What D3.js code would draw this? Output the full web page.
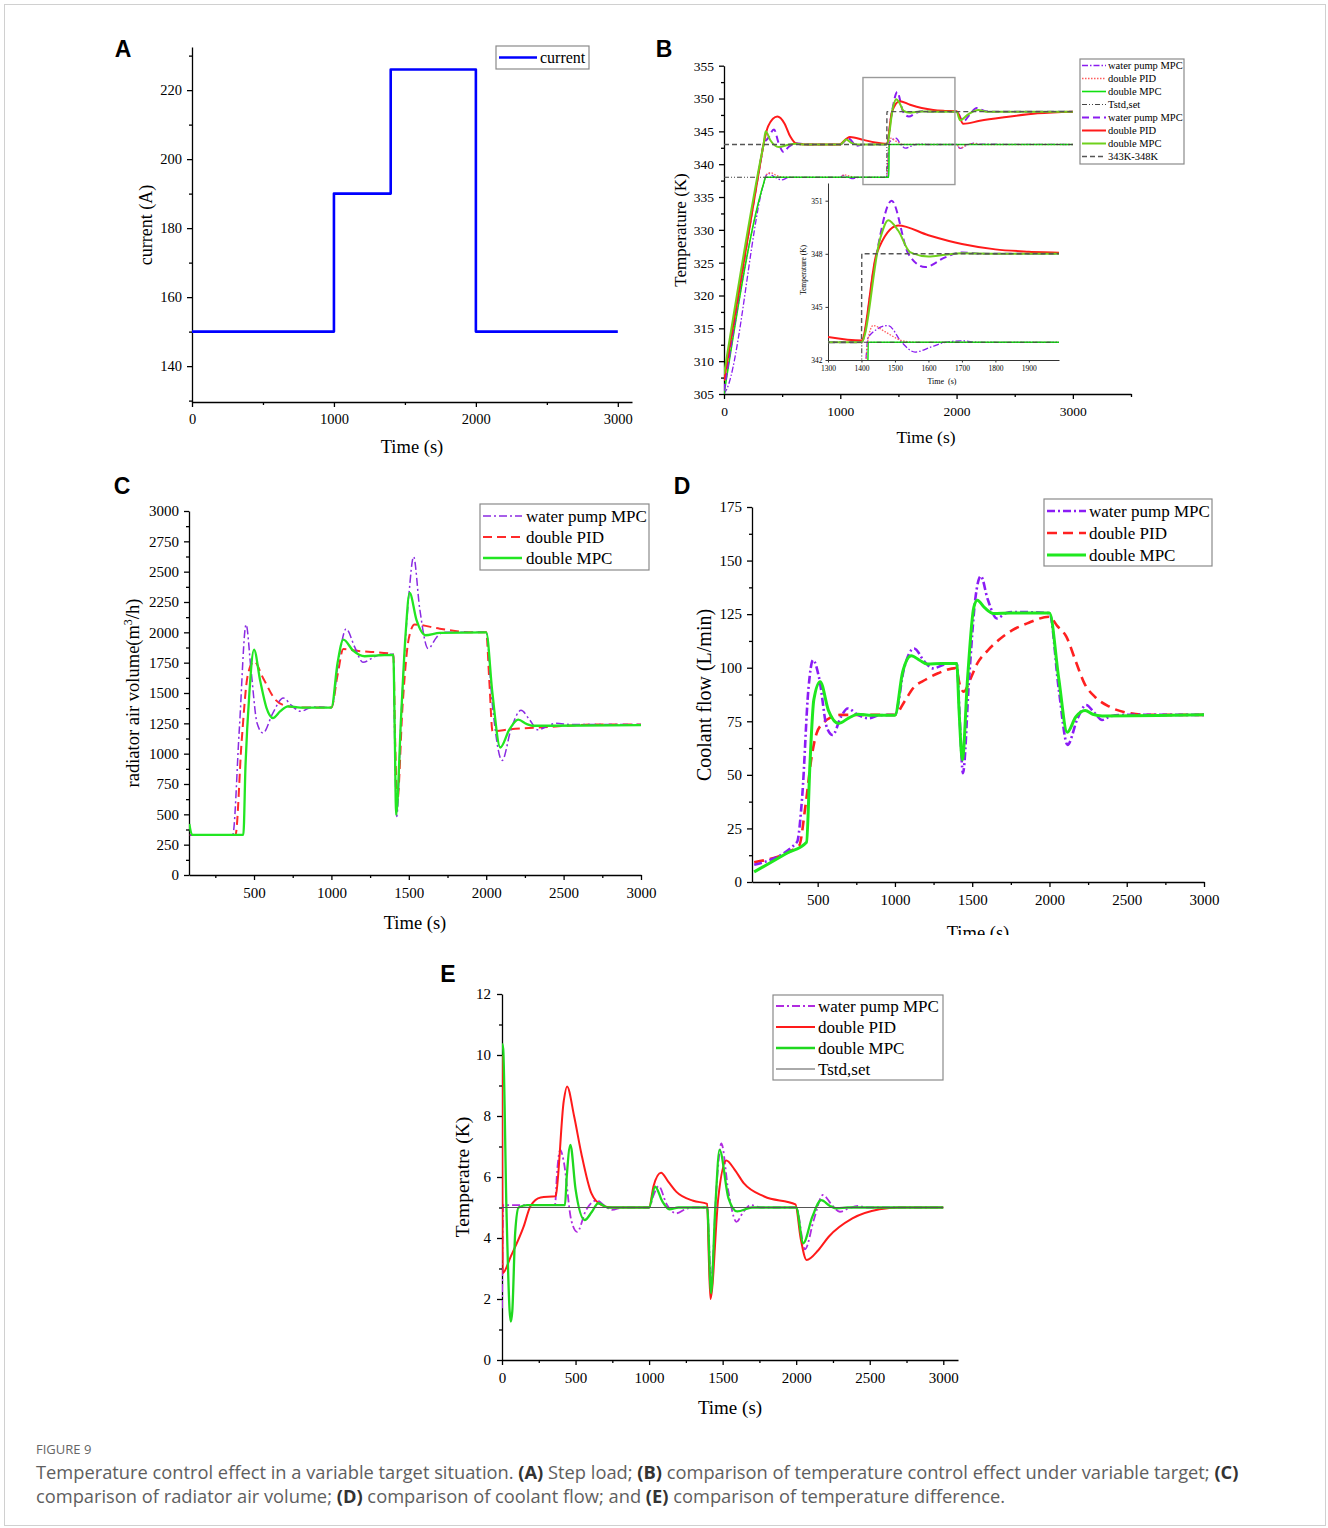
<!DOCTYPE html>
<html><head><meta charset="utf-8">
<script src="https://cdn.jsdelivr.net/npm/d3@7"></script>
<style>body{margin:0;background:#fff}</style>
</head><body>
<svg id="fig" width="1328" height="1528" xmlns="http://www.w3.org/2000/svg"></svg>
<script>
// ---------------- DATA ----------------
// Panel A: step load current
const aTime = [0, 1000, 1000, 1400, 1400, 2000, 2000, 3000];
const aCurrent = [150, 150, 190, 190, 226, 226, 150, 150];
const aXTicks = [0, 1000, 2000, 3000];
const aYTicks = [140, 160, 180, 200, 220];

// Panel B: temperature (K) vs time (s)
const bWpThin = [[0,305],[20,305.6],[340,337],[360,338.2],[381,338.6],[430,338.1],[496,337.6],[560,338],[1000,338],[1023,338.3],[1060,338.1],[1100,337.8],[1160,338],[1400,338],[1410,341],[1420,343.3],[1480,343.95],[1520,343],[1560,342.45],[1610,342.75],[1650,343],[1700,343.08],[1750,343],[2000,343],[2030,342.4],[2090,342.9],[2150,343.2],[2200,343.05],[3000,343]];
const bPidThin = [[0,305.2],[340,337],[365,338.4],[400,338.7],[450,338.3],[520,338],[1000,338],[1030,338.4],[1080,338.2],[1130,338],[1400,338],[1410,341],[1420,343.2],[1435,343.95],[1470,343.6],[1520,343.1],[1560,343],[2000,343],[2030,342.4],[2080,342.9],[2150,343.15],[2220,343],[3000,343]];
const bMpcThin = [[0,305],[340,337],[358,338],[400,338],[1000,338],[1417,338],[1420,343],[3000,343]];
const bTstd = [[0,338],[1400,338],[1401,343],[3000,343]];
const bWpThick = [[0,305.5],[320,341],[340,343],[380,344],[430,345.3],[470,343.2],[510,341.9],[560,342.7],[620,343.2],[700,343],[1000,343],[1030,343.4],[1070,343.9],[1140,342.8],[1200,343],[1400,343],[1440,347.5],[1490,351],[1540,348],[1590,347.25],[1650,347.8],[1700,348.08],[1760,348],[2000,348],[2058,346.5],[2110,347.5],[2175,348.55],[2240,348.1],[2300,348],[3000,348]];
const bPidThick = [[0,307],[320,341],[340,343],[380,345.8],[459,347.25],[520,346.2],[570,344.2],[625,343.1],[700,343],[1000,343],[1012,343.2],[1083,344.15],[1200,343.7],[1300,343.3],[1400,343.1],[1445,348],[1510,349.6],[1600,349.05],[1700,348.55],[1800,348.25],[1900,348.12],[2000,348.05],[2058,346.15],[2200,346.6],[2394,347.1],[2697,347.75],[3000,348]];
const bMpcThick = [[0,308],[320,341.2],[340,343],[358,345],[400,343.6],[470,342.6],[560,343],[620,343.1],[700,343],[1000,343],[1050,343.75],[1100,343.2],[1150,343],[1400,343],[1455,348.8],[1480,349.9],[1510,349.3],[1545,348.1],[1600,347.85],[1650,347.95],[1700,348.03],[1800,348],[2000,348],[2030,346.7],[2100,347.6],[2187,348.25],[2260,348],[3000,348]];
const bRange = [[0,343],[1400,343],[1401,348],[3000,348]];
const bLegendLabels = ['water pump MPC','double PID','double MPC','Tstd,set','water pump MPC','double PID','double MPC','343K-348K'];
const bXTicks = [0, 1000, 2000, 3000];
const bYTicks = [305,310,315,320,325,330,335,340,345,350,355];
const bInsetXTicks = [1300,1400,1500,1600,1700,1800,1900];
const bInsetYTicks = [342,345,348,351];

// Panel C: radiator air volume (m3/h)
const cWp = [[85,330],[362,330],[405,1200],[449,2064],[480,1700],[520,1250],[558,1170],[620,1330],[689,1459],[740,1400],[800,1349],[880,1385],[1000,1380],[1050,1800],[1095,2029],[1150,1880],[1203,1753],[1300,1810],[1400,1820],[1410,1000],[1422,482],[1450,1300],[1500,2300],[1531,2623],[1570,2200],[1625,1866],[1680,1960],[1720,2000],[2000,2000],[2040,1400],[2103,944],[2160,1200],[2225,1357],[2280,1280],[2333,1197],[2400,1230],[2450,1250],[2550,1240],[3000,1240]];
const cPid = [[85,330],[380,330],[420,1100],[460,1650],[500,1760],[560,1620],[638,1445],[719,1390],[800,1380],[1000,1380],[1040,1650],[1077,1863],[1150,1850],[1400,1820],[1412,1100],[1425,600],[1460,1400],[1500,1950],[1538,2064],[1700,2030],[1900,2000],[2000,2000],[2020,1600],[2041,1184],[2150,1200],[2400,1220],[2700,1240],[3000,1240]];
const cMpc = [[82,420],[100,330],[431,330],[445,900],[470,1500],[500,1858],[540,1600],[580,1380],[622,1294],[670,1350],[719,1390],[800,1380],[1000,1380],[1040,1750],[1077,1940],[1140,1850],[1215,1803],[1300,1810],[1400,1815],[1410,1100],[1418,495],[1450,1300],[1480,2000],[1505,2326],[1550,2100],[1607,1976],[1700,1995],[2000,2000],[2040,1500],[2091,1051],[2150,1200],[2207,1280],[2260,1245],[2300,1230],[3000,1235]];
const cXTicks = [500,1000,1500,2000,2500,3000];
const cYTicks = [0,250,500,750,1000,1250,1500,1750,2000,2250,2500,2750,3000];

// Panel D: coolant flow (L/min)
const dWp = [[89,8],[366,18.6],[400,40],[440,90],[470,103.6],[510,95],[560,72],[597,68.6],[650,77],[694,81],[760,78],[828,76.4],[900,77.8],[1000,78],[1060,100],[1124,109],[1190,103],[1244,99.7],[1350,102],[1400,102],[1420,75],[1440,50.8],[1480,95],[1520,132],[1556,142.7],[1600,132],[1660,123],[1720,125.5],[1780,126],[2000,125.5],[2060,90],[2117,64],[2180,76],[2237,82.6],[2290,79],[2341,75.6],[2400,77.5],[2500,78],[3000,78]];
const dPid = [[89,9.2],[380,17],[420,35],[460,58],[493,69.4],[540,74.5],[585,76.8],[650,78],[1000,78],[1060,84],[1117,90.4],[1200,94.5],[1279,97.4],[1394,99.8],[1420,92],[1445,88.8],[1490,95],[1533,102],[1600,108],[1671,112.9],[1760,117.5],[1856,120.7],[2000,123.8],[2050,119.5],[2110,114.4],[2170,103],[2226,92.7],[2300,86],[2388,81.8],[2526,78.7],[2650,78],[3000,78]];
const dMpc = [[89,4.7],[300,13.4],[428,18.6],[450,55],[475,85],[516,93.5],[570,80],[636,74],[700,76.5],[759,78.3],[850,77.8],[1000,77.8],[1050,98],[1105,105.6],[1160,103.5],[1209,101.7],[1300,102],[1400,102],[1415,80],[1436,57],[1470,95],[1510,128],[1533,131.5],[1580,128],[1637,125.3],[1750,125.5],[2000,125.5],[2060,95],[2115,69.9],[2170,77],[2231,80],[2280,78.3],[2341,77.5],[3000,78]];
const dXTicks = [500,1000,1500,2000,2500,3000];
const dYTicks = [0,25,50,75,100,125,150,175];

// Panel E: temperature difference (K)
const eWp = [[0,1.7],[8,5.08],[360,5.08],[375,6.2],[396,6.89],[420,6.5],[470,4.6],[511,4.2],[570,4.9],[643,5.23],[700,5.05],[747,4.92],[820,5.0],[1000,5.0],[1030,5.4],[1065,5.7],[1120,5.1],[1184,4.81],[1250,4.95],[1300,5.0],[1395,5.0],[1421,2.6],[1460,5.8],[1491,7.1],[1540,5.5],[1594,4.53],[1640,4.85],[1691,5.08],[1760,5.0],[2000,5.0],[2060,3.63],[2120,4.6],[2182,5.41],[2240,5.1],[2297,4.86],[2360,4.98],[2420,5.05],[2480,5.0],[3000,5.0]];
const ePid = [[0,10],[5,2.85],[60,3.4],[147,4.37],[194,5.05],[263,5.33],[362,5.37],[366,5.4],[420,8.5],[442,8.97],[490,8.0],[539,6.78],[608,5.46],[677,5.08],[750,5.0],[1000,5.0],[1030,5.7],[1081,6.14],[1130,5.85],[1184,5.52],[1300,5.22],[1395,5.12],[1405,3.5],[1417,2.0],[1470,5.3],[1525,6.54],[1580,6.25],[1645,5.79],[1783,5.36],[1995,5.1],[2030,4.0],[2071,3.28],[2150,3.6],[2221,4.04],[2382,4.64],[2567,4.94],[2700,5.0],[3000,5.0]];
const eMpc = [[0,10.38],[8,10.2],[30,5],[52,1.6],[60,1.26],[70,1.6],[90,4.2],[113,5.0],[170,5.08],[428,5.08],[440,6.0],[465,7.05],[500,5.6],[562,4.59],[610,4.85],[654,5.14],[720,5.0],[1000,5.0],[1041,5.68],[1090,5.2],[1138,4.94],[1200,5.0],[1395,5.0],[1421,2.19],[1450,5.0],[1479,6.89],[1540,5.3],[1599,4.87],[1700,5.0],[2000,5.0],[2048,3.83],[2110,4.7],[2170,5.24],[2230,5.05],[2278,4.97],[2350,5.0],[3000,5.0]];
const eTstd = [[0,5],[3000,5]];
const eXTicks = [0,500,1000,1500,2000,2500,3000];
const eYTicks = [0,2,4,6,8,10,12];

const captionTitle = 'FIGURE 9';
const captionLine1 = [['Temperature control effect in a variable target situation. ',0],['(A)',1],[' Step load; ',0],['(B)',1],[' comparison of temperature control effect under variable target; ',0],['(C)',1]];
const captionLine2 = [['comparison of radiator air volume; ',0],['(D)',1],[' comparison of coolant flow; and ',0],['(E)',1],[' comparison of temperature difference.',0]];

// ---------------- DRAWING ----------------
const SERIF = "'Liberation Serif','Times New Roman',serif";
const SANS = "'Liberation Sans',Arial,sans-serif";
const svg = d3.select('#fig');
svg.append('rect').attr('x',4.5).attr('y',4.5).attr('width',1321).attr('height',1521)
  .attr('fill','#fff').attr('stroke','#d0d0d0').attr('stroke-width',1);

let clipId = 0;
function clipRect(x0,y0,w,h){
  const id = 'clip'+(clipId++);
  svg.append('clipPath').attr('id',id).append('rect').attr('x',x0).attr('y',y0).attr('width',w).attr('height',h);
  return 'url(#'+id+')';
}

function drawAxes(g, x, y, o){
  const sw = o.sw || 1.3;
  g.append('g').attr('transform',`translate(0,${y.range()[0]})`)
    .call(d3.axisBottom(x).tickValues(o.xMajor).tickSize(o.tl||5).tickSizeOuter(0).tickPadding(o.xpad||6).tickFormat(d3.format('d')));
  g.append('g').attr('transform',`translate(${x.range()[0]},0)`)
    .call(d3.axisLeft(y).tickValues(o.yMajor).tickSize(o.tl||5).tickSizeOuter(0).tickPadding(o.ypad||5).tickFormat(d3.format('d')));
  if (o.xMinor) g.append('g').attr('transform',`translate(0,${y.range()[0]})`)
    .call(d3.axisBottom(x).tickValues(o.xMinor).tickSize(o.mtl||3).tickSizeOuter(0).tickFormat(()=>''))
    .call(s=>s.select('.domain').remove());
  if (o.yMinor) g.append('g').attr('transform',`translate(${x.range()[0]},0)`)
    .call(d3.axisLeft(y).tickValues(o.yMinor).tickSize(o.mtl||3).tickSizeOuter(0).tickFormat(()=>''))
    .call(s=>s.select('.domain').remove());
  g.selectAll('.domain, .tick line').attr('stroke','#000').attr('stroke-width',sw);
  g.selectAll('.tick text').attr('font-family',SERIF).attr('font-size',o.fs).attr('fill','#000');
}

function minorVals(a, b, step){
  const out = [];
  for (let v = a; v <= b + 1e-9; v += step) out.push(v);
  return out;
}

function drawSeries(g, x, y, data, st, clip){
  const line = d3.line().x(d=>x(d[0])).y(d=>y(d[1])).curve(st.curve || d3.curveMonotoneX);
  g.append('path').datum(data).attr('d',line).attr('fill','none')
    .attr('stroke',st.color).attr('stroke-width',st.w).attr('stroke-dasharray',st.dash||null)
    .attr('stroke-linejoin','round').attr('clip-path',clip);
}

function legend(g, x0, y0, w, h, rows, o){
  g.append('rect').attr('x',x0).attr('y',y0).attr('width',w).attr('height',h)
    .attr('fill','#fff').attr('stroke','#8a8a8a').attr('stroke-width',1.2);
  rows.forEach((r,i)=>{
    const yy = y0 + o.first + i*o.step;
    g.append('line').attr('x1',x0+o.lx0).attr('x2',x0+o.lx1).attr('y1',yy).attr('y2',yy)
      .attr('stroke',r.st.color).attr('stroke-width',r.st.w).attr('stroke-dasharray',r.st.dash||null);
    g.append('text').attr('x',x0+o.tx).attr('y',yy).attr('dy','0.33em')
      .attr('font-family',SERIF).attr('font-size',o.fs).attr('fill','#000').text(r.label);
  });
}

function titleX(g, x, y, txt, fs){
  return g.append('text').attr('x',x).attr('y',y).attr('text-anchor','middle')
    .attr('font-family',SERIF).attr('font-size',fs).attr('fill','#000').text(txt);
}
function titleY(g, x, y, txt, fs){
  return g.append('text').attr('transform',`translate(${x},${y}) rotate(-90)`).attr('text-anchor','middle')
    .attr('dy','0.35em').attr('font-family',SERIF).attr('font-size',fs).attr('fill','#000').text(txt);
}
function panelLabel(x, y, t){
  svg.append('text').attr('x',x).attr('y',y).attr('text-anchor','middle').attr('font-family',SANS)
    .attr('font-weight','bold').attr('font-size',23).attr('fill','#000').text(t);
}

// ---------- Panel A ----------
{
  const g = svg.append('g');
  const x = d3.scaleLinear().domain([0,3100]).range([192,632]);
  const y = d3.scaleLinear().domain([129.6,232.5]).range([402,47]);
  drawAxes(g, x, y, {xMajor:aXTicks, yMajor:aYTicks, xMinor:[500,1500,2500], yMinor:[130,150,170,190,210,230], fs:14.5, xpad:7, ypad:5});
  const pts = aTime.map((t,i)=>[t,aCurrent[i]]);
  drawSeries(g, x, y, pts, {color:'#0000ff', w:2.6, curve:d3.curveLinear});
  titleX(g, 412, 453, 'Time (s)', 18.5);
  titleY(g, 146, 225, 'current (A)', 18);
  legend(g, 496, 46, 93, 23, [{label:'current', st:{color:'#0000ff', w:2.6}}], {first:11.5, step:0, lx0:3, lx1:41, tx:44, fs:16});
  panelLabel(123, 57, 'A');
}

// ---------- Panel B ----------
const stB = {
  wpThin:{color:'#8a1cf0', w:1.3, dash:'6,2,1.5,2'},
  pidThin:{color:'#ff5c5c', w:1.3, dash:'1.5,1.5'},
  mpcThin:{color:'#10e010', w:1.6},
  tstd:{color:'#444', w:1.1, dash:'5,2,1,2,1,2'},
  wpThick:{color:'#8a1cf0', w:2, dash:'7,4'},
  pidThick:{color:'#ff1a1a', w:2},
  mpcThick:{color:'#6fd11c', w:2},
  range:{color:'#555', w:1.4, dash:'5,3'}
};
const bOrder = [[bWpThin,stB.wpThin],[bPidThin,stB.pidThin],[bMpcThin,stB.mpcThin],[bTstd,stB.tstd],[bWpThick,stB.wpThick],[bPidThick,stB.pidThick],[bMpcThick,stB.mpcThick],[bRange,stB.range]];
{
  const g = svg.append('g');
  const x = d3.scaleLinear().domain([0,3500]).range([724,1131]);
  const y = d3.scaleLinear().domain([305,355]).range([394,65.7]);
  drawAxes(g, x, y, {xMajor:bXTicks, yMajor:bYTicks, xMinor:[500,1500,2500,3500], yMinor:minorVals(307.5,352.5,5), fs:13.5, xpad:7, ypad:5});
  const clip = clipRect(724, 60, 407, 334);
  bOrder.forEach(([d,s])=>drawSeries(g, x, y, d, s, clip));
  g.append('rect').attr('x',x(1195)).attr('y',y(353.2)).attr('width',x(1986)-x(1195)).attr('height',y(336.9)-y(353.2))
    .attr('fill','none').attr('stroke','#9a9a9a').attr('stroke-width',1.4);
  const xi = d3.scaleLinear().domain([1300,1990]).range([828,1059]);
  const yi = d3.scaleLinear().domain([342,352]).range([360,183]);
  const gi = g.append('g');
  gi.append('g').attr('transform','translate(0,360)')
    .call(d3.axisBottom(xi).tickValues(bInsetXTicks).tickSize(2.5).tickSizeOuter(0).tickPadding(3).tickFormat(d3.format('d')));
  gi.append('g').attr('transform','translate(828,0)')
    .call(d3.axisLeft(yi).tickValues(bInsetYTicks).tickSize(2.5).tickSizeOuter(0).tickPadding(3).tickFormat(d3.format('d')));
  gi.selectAll('.domain, .tick line').attr('stroke','#333').attr('stroke-width',1);
  gi.selectAll('.tick text').attr('font-family',SERIF).attr('font-size',7.5).attr('fill','#000');
  const clipI = clipRect(828, 183, 231, 177);
  bOrder.forEach(([d,s])=>drawSeries(gi, xi, yi, d, s, clipI));
  titleX(gi, 942, 384, 'Time\u00a0\u00a0(s)', 8);
  titleY(gi, 803, 270, 'Temperature (K)', 7.5);
  titleX(g, 926, 443, 'Time (s)', 17.5);
  titleY(g, 680, 230, 'Temperature (K)', 17);
  legend(g, 1080, 59, 104, 105, bLegendLabels.map((l,i)=>({label:l, st:bOrder[i][1]})), {first:6.5, step:13, lx0:2, lx1:26, tx:28, fs:10.5});
  panelLabel(664, 57, 'B');
}

// ---------- Panel C ----------
{
  const g = svg.append('g');
  const x = d3.scaleLinear().domain([80,3000]).range([189,641]);
  const y = d3.scaleLinear().domain([0,3000]).range([875,511]);
  drawAxes(g, x, y, {xMajor:cXTicks, yMajor:cYTicks, xMinor:[250,750,1250,1750,2250,2750], yMinor:minorVals(125,2875,250), fs:15, xpad:7, ypad:5});
  const clip = clipRect(189, 505, 452, 370);
  const st = {wp:{color:'#8a2be2', w:1.5, dash:'8,3,2,3'}, pid:{color:'#ff2a2a', w:2, dash:'9,5'}, mpc:{color:'#22e622', w:2.3}};
  drawSeries(g, x, y, cPid, st.pid, clip);
  drawSeries(g, x, y, cWp, st.wp, clip);
  drawSeries(g, x, y, cMpc, st.mpc, clip);
  titleX(g, 415, 929, 'Time (s)', 18.5);
  const t = g.append('text').attr('transform','translate(133,693) rotate(-90)').attr('text-anchor','middle')
    .attr('dy','0.35em').attr('font-family',SERIF).attr('font-size',18.5).attr('fill','#000');
  t.append('tspan').text('radiator air volume(m');
  t.append('tspan').attr('font-size',12).attr('dy','-7').text('3');
  t.append('tspan').attr('dy','7').text('/h)');
  legend(g, 480, 504, 169, 66, [{label:'water pump MPC', st:st.wp},{label:'double PID', st:st.pid},{label:'double MPC', st:st.mpc}], {first:12, step:21, lx0:3, lx1:42, tx:46, fs:17});
  panelLabel(122, 494, 'C');
}

// ---------- Panel D ----------
{
  const g = svg.append('g');
  const x = d3.scaleLinear().domain([75,3000]).range([752,1204]);
  const y = d3.scaleLinear().domain([0,175]).range([882,507]);
  drawAxes(g, x, y, {xMajor:dXTicks, yMajor:dYTicks, xMinor:[250,750,1250,1750,2250,2750], yMinor:minorVals(12.5,162.5,25), fs:15, xpad:7, ypad:5});
  const clip = clipRect(752, 500, 452, 382);
  const st = {wp:{color:'#8b1cf5', w:2.6, dash:'8,3,2,3'}, pid:{color:'#ff2020', w:2.6, dash:'10,6'}, mpc:{color:'#1fe81f', w:3}};
  drawSeries(g, x, y, dPid, st.pid, clip);
  drawSeries(g, x, y, dWp, st.wp, clip);
  drawSeries(g, x, y, dMpc, st.mpc, clip);
  const tclip = clipRect(900, 900, 200, 35);
  titleX(g, 978, 939, 'Time (s)', 18.5).attr('clip-path', tclip);
  titleY(g, 704, 695, 'Coolant flow (L/min)', 20);
  legend(g, 1044, 499, 168, 67, [{label:'water pump MPC', st:st.wp},{label:'double PID', st:st.pid},{label:'double MPC', st:st.mpc}], {first:12, step:22, lx0:3, lx1:42, tx:45, fs:17});
  panelLabel(682, 494, 'D');
}

// ---------- Panel E ----------
{
  const g = svg.append('g');
  const x = d3.scaleLinear().domain([0,3100]).range([502,958]);
  const y = d3.scaleLinear().domain([0,12]).range([1360,994]);
  drawAxes(g, x, y, {xMajor:eXTicks, yMajor:eYTicks, xMinor:[250,750,1250,1750,2250,2750], yMinor:[1,3,5,7,9,11], fs:15, xpad:7, ypad:6});
  const clip = clipRect(502, 990, 456, 370);
  const st = {wp:{color:'#b02be0', w:1.8, dash:'8,3,2,3'}, pid:{color:'#ff1a1a', w:2}, mpc:{color:'#1fd81f', w:2.3}, tstd:{color:'#555', w:1}};
  drawSeries(g, x, y, eWp, st.wp, clip);
  drawSeries(g, x, y, ePid, st.pid, clip);
  drawSeries(g, x, y, eMpc, st.mpc, clip);
  drawSeries(g, x, y, eTstd, st.tstd, clip);
  titleX(g, 730, 1414, 'Time (s)', 19);
  titleY(g, 462, 1177, 'Temperatre (K)', 19.5);
  legend(g, 773, 995, 170, 85, [{label:'water pump MPC', st:st.wp},{label:'double PID', st:st.pid},{label:'double MPC', st:st.mpc},{label:'Tstd,set', st:st.tstd}], {first:11, step:21, lx0:3, lx1:42, tx:45, fs:17});
  panelLabel(448, 982, 'E');
}

// ---------- Caption ----------
{
  const CAP = "'Open Sans','Noto Sans',sans-serif";
  svg.append('text').attr('x',36).attr('y',1454).attr('font-family',CAP).attr('font-size',13)
    .attr('fill','#666').text(captionTitle);
  [[captionLine1,1479],[captionLine2,1503]].forEach(([parts,yy])=>{
    const t = svg.append('text').attr('x',36).attr('y',yy).attr('font-family',CAP).attr('font-size',18.3).attr('fill','#5e5e5e');
    parts.forEach(([s,b])=>{
      const sp = t.append('tspan').text(s);
      if (b) sp.attr('font-weight','bold').attr('fill','#333');
    });
  });
}
</script>
</body></html>
